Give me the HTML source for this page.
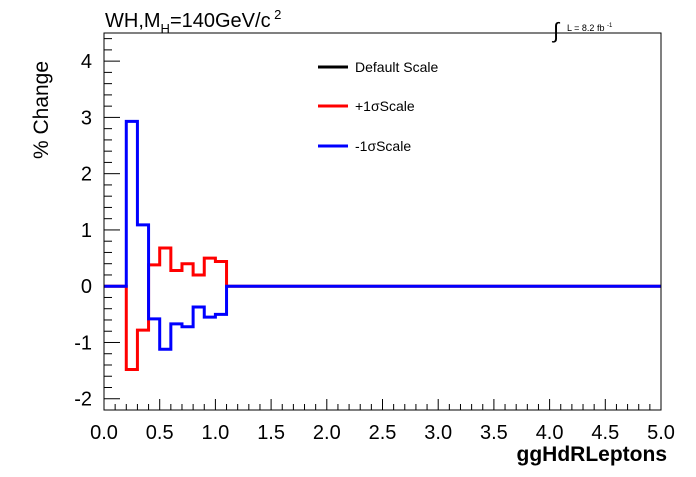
<!DOCTYPE html>
<html><head><meta charset="utf-8"><style>
body{margin:0;background:#fff;font-family:"Liberation Sans",sans-serif}
</style></head><body>
<svg width="696" height="472" xmlns="http://www.w3.org/2000/svg" font-family="Liberation Sans, sans-serif">
<rect width="696" height="472" fill="#fff"/>
<g id="axes"></g>
<g id="series"></g>
<rect x="104" y="33" width="557" height="377" fill="none" stroke="#000" stroke-width="1"/>
<text x="105" y="27" font-size="20">WH,M<tspan font-size="13" dy="6">H</tspan><tspan dy="-6">=140GeV/c</tspan><tspan font-size="13" dy="-8"> 2</tspan></text>
<text x="553" y="38" font-size="22">∫</text>
<text x="567" y="31" font-size="9">L = 8.2 fb <tspan font-size="6" dy="-4">-1</tspan></text>
<text transform="translate(48,110) rotate(-90)" font-size="21" text-anchor="middle">% Change</text>
<text x="667" y="461" font-size="21" font-weight="bold" text-anchor="end">ggHdRLeptons</text>
<g>
<line x1="318" y1="67" x2="348" y2="67" stroke="#000" stroke-width="3"/>
<text x="355" y="72" font-size="14">Default Scale</text>
<line x1="318" y1="106" x2="348" y2="106" stroke="#f00" stroke-width="3"/>
<text x="355" y="111" font-size="14">+1σScale</text>
<line x1="318" y1="146" x2="348" y2="146" stroke="#00f" stroke-width="3"/>
<text x="355" y="151" font-size="14">-1σScale</text>
</g>
</svg>
<script>
const binEdges=[0.2,0.3,0.4,0.5,0.6,0.7,0.8,0.9,1.0,1.1];
const defaultVals=[0,0,0,0,0,0,0,0,0];
const plusVals=[-1.48,-0.78,0.38,0.68,0.28,0.40,0.20,0.50,0.44];
const minusVals=[2.93,1.09,-0.58,-1.12,-0.67,-0.72,-0.37,-0.55,-0.50];
const xTicks=[0,0.5,1,1.5,2,2.5,3,3.5,4,4.5,5];
const xTickLabels=["0.0","0.5","1.0","1.5","2.0","2.5","3.0","3.5","4.0","4.5","5.0"];
const yTicks=[-2,-1,0,1,2,3,4];
const xMin=0,xMax=5,yMin=-2.2,yMax=4.5;
const L=104,R=661,T=33,B=410;
const X=v=>L+(v-xMin)/(xMax-xMin)*(R-L);
const Y=v=>B-(v-yMin)/(yMax-yMin)*(B-T);
const NS="http://www.w3.org/2000/svg";
const ax=document.getElementById('axes'),se=document.getElementById('series');
function mk(tag,attrs,parent){const e=document.createElementNS(NS,tag);for(const k in attrs)e.setAttribute(k,attrs[k]);parent.appendChild(e);return e;}
xTicks.forEach((t,i)=>{
 const l=mk('line',{x1:X(t),x2:X(t),y1:B,y2:B-11,stroke:'#000'},ax);
 
 
 const tx=mk('text',{x:X(t),y:B+29,'font-size':20,'text-anchor':'middle'},ax);
 tx.textContent=xTickLabels[i];
 
 
 if(i<xTicks.length-1){for(let k=1;k<5;k++){const m=t+k*0.1;const ml=mk('line',{x1:X(m),x2:X(m),y1:B,y2:B-6,stroke:'#000'},ax);
 
 }}
});
yTicks.forEach(t=>{
 const l=mk('line',{x1:L,x2:L+16,y1:Y(t),y2:Y(t),stroke:'#000'},ax);
 
 
 const tx=mk('text',{x:L-12,y:Y(t)+7,'font-size':20,'text-anchor':'end'},ax);
 tx.textContent=String(t);
 
 
});
for(let m=-2.2;m<=4.5;m+=0.2){const v=Math.round(m*10)/10;if(Number.isInteger(v))continue;const ml=mk('line',{x1:L,x2:L+8,y1:Y(v),y2:Y(v),stroke:'#000'},ax);
 
 }
function hist(vals,color,name,op){
 let d=`M${X(xMin)},${Y(0)} L${X(binEdges[0])},${Y(0)}`;
 vals.forEach((v,i)=>{d+=` L${X(binEdges[i])},${Y(v)} L${X(binEdges[i+1])},${Y(v)}`;});
 d+=` L${X(binEdges[binEdges.length-1])},${Y(0)} L${X(xMax)},${Y(0)}`;
 const p=mk('path',{d:d,fill:'none',stroke:color,'stroke-width':3,'stroke-opacity':op},se);
 
 
}
hist(defaultVals,'#000','default-scale-line',0);
hist(plusVals,'#f00','plus-sigma-line',1);
hist(minusVals,'#00f','minus-sigma-line',1);
</script>
</body></html>
